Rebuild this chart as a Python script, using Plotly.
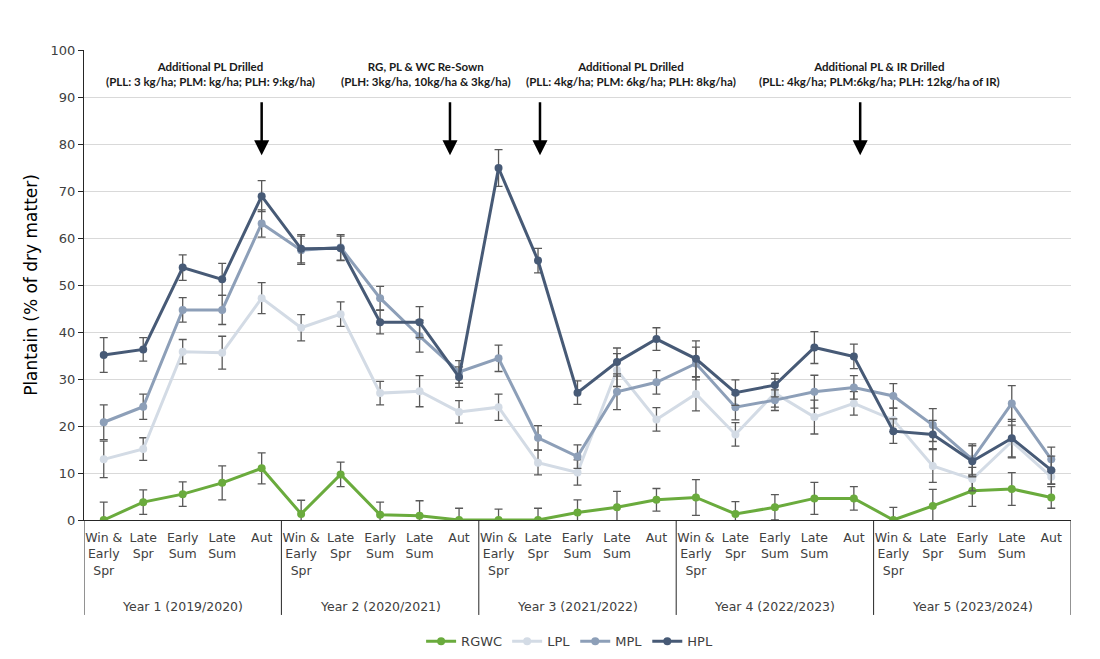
import plotly.graph_objects as go

# ---------------- data ----------------
years = ["Year 1 (2019/2020)", "Year 2 (2020/2021)", "Year 3 (2021/2022)",
         "Year 4 (2022/2023)", "Year 5 (2023/2024)"]
seasons = ["Win &<br>Early<br>Spr", "Late<br>Spr", "Early<br>Sum", "Late<br>Sum", "Aut"]

rgwc = [0, 3.8, 5.5, 7.9, 11.0, 1.3, 9.7, 1.1, 0.9, 0,
        0, 0, 1.6, 2.7, 4.3, 4.8, 1.3, 2.7, 4.6, 4.6,
        0, 3.0, 6.2, 6.6, 4.8]
rgwc_err = [3.8, 2.6, 2.6, 3.6, 3.3, 2.9, 2.6, 2.7, 3.2, 2.5,
            2.3, 2.5, 2.7, 3.4, 2.4, 3.8, 2.6, 2.7, 3.4, 2.5,
            2.7, 3.5, 3.3, 3.5, 2.3]

lpl = [12.9, 15.1, 35.8, 35.6, 47.2, 40.9, 43.8, 27.0, 27.4, 23.0,
       24.0, 12.2, 10.1, 31.9, 21.4, 26.8, 18.2, 27.0, 21.9, 24.8,
       21.3, 11.5, 8.7, 16.7, 9.2]
lpl_err = [3.9, 2.4, 2.6, 3.5, 3.3, 2.8, 2.6, 2.5, 3.3, 2.4,
           2.8, 2.6, 2.7, 3.5, 2.5, 3.6, 2.5, 3.0, 3.6, 2.5,
           2.5, 3.5, 2.5, 3.5, 1.5]

mpl = [20.8, 24.1, 44.7, 44.7, 63.1, 57.4, 58.0, 47.2, 39.1, 31.5,
       34.4, 17.5, 13.5, 27.3, 29.3, 33.3, 24.0, 25.5, 27.3, 28.2,
       26.4, 20.2, 12.9, 24.8, 12.9]
mpl_err = [3.7, 2.7, 2.6, 3.1, 2.9, 3.0, 2.7, 2.5, 3.4, 2.4,
           2.8, 2.6, 2.5, 3.8, 2.5, 3.5, 2.7, 2.2, 3.5, 2.5,
           2.6, 3.5, 3.3, 3.8, 2.6]

hpl = [35.1, 36.3, 53.7, 51.2, 68.9, 57.7, 57.8, 42.1, 42.1, 30.4,
       74.9, 55.2, 27.1, 33.6, 38.5, 34.3, 27.1, 28.7, 36.7, 34.8,
       18.9, 18.2, 12.5, 17.4, 10.6]
hpl_err = [3.7, 2.5, 2.7, 3.4, 3.3, 3.0, 2.6, 2.5, 3.3, 2.2,
           3.9, 2.6, 2.5, 3.0, 2.4, 3.8, 2.7, 2.5, 3.4, 2.6,
           2.6, 3.0, 3.3, 4.0, 3.0]

series_names = ["RGWC", "LPL", "MPL", "HPL"]
series_colors = ["#6aab3d", "#d3dbe5", "#8d9fb8", "#475a76"]

notes_title = ["Additional PL Drilled", "RG, PL & WC Re-Sown",
               "Additional PL Drilled", "Additional PL & IR Drilled"]
notes_detail = ["(PLL: 3 kg/ha; PLM: kg/ha; PLH: 9:kg/ha)",
                "(PLH: 3kg/ha, 10kg/ha & 3kg/ha)",
                "(PLL: 4kg/ha; PLM: 6kg/ha; PLH: 8kg/ha)",
                "(PLL: 4kg/ha; PLM:6kg/ha; PLH: 12kg/ha of IR)"]

# ---------------- figure ----------------
n_per_year = len(seasons)
n = n_per_year * len(years)
xs = list(range(n))
ticktext = seasons * len(years)

fig = go.Figure()
for name, vals, errs, col in zip(series_names, [rgwc, lpl, mpl, hpl],
                                 [rgwc_err, lpl_err, mpl_err, hpl_err], series_colors):
    fig.add_trace(go.Scatter(
        x=xs, y=vals, name=name, mode="lines+markers",
        line=dict(color=col, width=3),
        marker=dict(color=col, size=8),
        error_y=dict(type="data", array=errs, visible=True,
                     color="#595959", thickness=1.3, width=4),
    ))

shapes = []
# year separators extending below the axis
bottom = -0.202
for k in range(len(years) + 1):
    xb = k * n_per_year - 0.5
    shapes.append(dict(type="line", xref="x", yref="paper", x0=xb, x1=xb,
                       y0=0, y1=bottom, line=dict(color="#262626", width=1)))

annotations = []
for k, yr in enumerate(years):
    annotations.append(dict(x=k * n_per_year + (n_per_year - 1) / 2, y=-0.183,
                            xref="x", yref="paper", text=yr, showarrow=False,
                            font=dict(family="DejaVu Sans", size=12.5, color="#404040"),
                            yanchor="middle"))

note_x = [2.71, 8.16, 13.36, 19.64]
for nx, t1, t2 in zip(note_x, notes_title, notes_detail):
    annotations.append(dict(x=nx, y=94.8, xref="x", yref="y",
                            text=f"<b>{t1}</b><br><b>{t2}</b>", showarrow=False,
                            font=dict(family="Lato", size=11.5, color="#1a1a1a"),
                            align="center", yanchor="middle"))

arrow_x = [4.0, 8.77, 11.05, 19.16]
for axp in arrow_x:
    annotations.append(dict(x=axp, y=77.6, xref="x", yref="y",
                            ax=axp, ay=89.2, axref="x", ayref="y",
                            text="", showarrow=True, arrowhead=2, arrowsize=1.2,
                            arrowwidth=2.5, arrowcolor="#000000"))

fig.update_layout(
    width=1100, height=659,
    paper_bgcolor="white", plot_bgcolor="white",
    margin=dict(l=84, r=29, t=50, b=139, autoexpand=False),
    shapes=shapes, annotations=annotations,
    legend=dict(orientation="h", x=0.492, xanchor="center",
                yref="container", y=0.027, yanchor="middle",
                font=dict(family="DejaVu Sans", size=13, color="#404040"),
                itemwidth=30, tracegroupgap=0),
    showlegend=True,
)
fig.update_xaxes(range=[-0.5, n - 0.5], tickmode="array", tickvals=xs, ticktext=ticktext,
                 showgrid=False, showline=True, linecolor="#262626", linewidth=1,
                 ticks="", ticklabelstandoff=6, automargin=False,
                 tickfont=dict(family="DejaVu Sans", size=12.5, color="#404040"),
                 zeroline=False, tickangle=0)
fig.update_yaxes(range=[0, 100], dtick=10, showgrid=True, gridcolor="#d9d9d9", gridwidth=1,
                 showline=True, linecolor="#262626", linewidth=1, ticks="outside", ticklen=5,
                 tickcolor="#262626", zeroline=False, automargin=False,
                 tickfont=dict(family="DejaVu Sans", size=13, color="#404040"),
                 title=dict(text="Plantain (% of dry matter)", standoff=8,
                            font=dict(family="DejaVu Sans", size=17, color="#000000")))

fig.write_html("out.html")
